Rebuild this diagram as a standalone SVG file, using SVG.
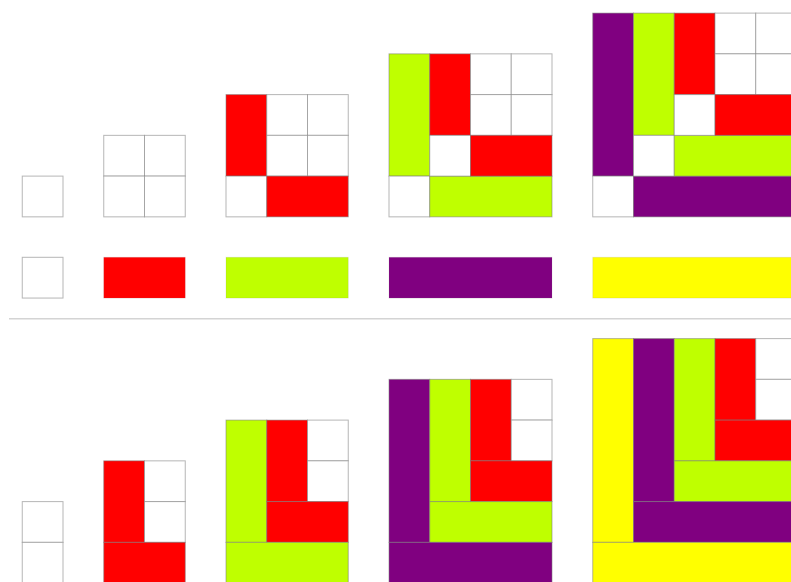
<svg xmlns="http://www.w3.org/2000/svg" width="791" height="582" viewBox="0 0 791 582">
<style>
rect{stroke:#7a7a7a;stroke-width:1;stroke-opacity:0.55}
.w{fill:#ffffff}
.r{fill:#ff0000}
.l{fill:#bfff00}
.p{fill:#800080}
.y{fill:#ffff00}
.bg{fill:#ffffff;stroke:none}
</style>
<defs>
<g id="t2"><rect class="w" x="0" y="0" width="40.75" height="40.75"/><rect class="w" x="40.75" y="0" width="40.75" height="40.75"/><rect class="w" x="0" y="40.75" width="40.75" height="40.75"/><rect class="w" x="40.75" y="40.75" width="40.75" height="40.75"/></g>
<g id="t3"><rect class="r" x="0" y="0" width="40.75" height="81.5"/><use href="#t2" x="40.75" y="0"/><rect class="w" x="0" y="81.5" width="40.75" height="40.75"/><rect class="r" x="40.75" y="81.5" width="81.5" height="40.75"/></g>
<g id="t4"><rect class="l" x="0" y="0" width="40.75" height="122.25"/><rect class="w" x="0" y="122.25" width="40.75" height="40.75"/><rect class="l" x="40.75" y="122.25" width="122.25" height="40.75"/><use href="#t3" x="40.75" y="0"/></g>
<g id="b1"><rect class="w" x="0" y="0" width="40.75" height="40.75"/><rect class="w" x="0" y="40.75" width="40.75" height="40.75"/></g>
<g id="b2"><rect class="r" x="0" y="0" width="40.75" height="81.5"/><use href="#b1" x="40.75" y="0"/><rect class="r" x="0" y="81.5" width="81.5" height="40.75"/></g>
<g id="b3"><rect class="l" x="0" y="0" width="40.75" height="122.25"/><use href="#b2" x="40.75" y="0"/><rect class="l" x="0" y="122.25" width="122.25" height="40.75"/></g>
<g id="b4"><rect class="p" x="0" y="0" width="40.75" height="163"/><use href="#b3" x="40.75" y="0"/><rect class="p" x="0" y="163" width="163" height="40.75"/></g>
</defs>
<rect class="bg" x="0" y="0" width="791" height="582"/>
<g id="top1"><rect class="w" x="22.25" y="176.1" width="40.75" height="40.75"/></g>
<g id="top2"><use href="#t2" x="103.75" y="135.35"/></g>
<g id="top3"><use href="#t3" x="226" y="94.6"/></g>
<g id="top4"><use href="#t4" x="389" y="53.85"/></g>
<g id="top5" transform="translate(592.75,13.1)"><rect class="p" x="0" y="0" width="40.75" height="163"/><rect class="w" x="0" y="163" width="40.75" height="40.75"/><rect class="p" x="40.75" y="163" width="163" height="40.75"/><use href="#t4" x="40.75" y="0"/></g>
<g id="bars">
<rect class="w" x="22.25" y="257.3" width="40.75" height="40.75"/>
<rect class="r" x="103.75" y="257.3" width="81.5" height="40.75" style="stroke-opacity:0.15"/>
<rect class="l" x="226" y="257.3" width="122.25" height="40.75" style="stroke-opacity:0.15"/>
<rect class="p" x="389" y="257.3" width="163" height="40.75" style="stroke-opacity:0.15"/>
<rect class="y" x="592.75" y="257.3" width="203.75" height="40.75" style="stroke-opacity:0.15"/>
</g>
<g id="connectors"><line x1="9" y1="318.7" x2="791" y2="318.7" stroke="#d4d4d4" stroke-width="1.5"/></g>
<g id="bot1"><use href="#b1" x="22.25" y="501.6"/></g>
<g id="bot2"><use href="#b2" x="103.75" y="460.85"/></g>
<g id="bot3"><use href="#b3" x="226" y="420.1"/></g>
<g id="bot4"><use href="#b4" x="389" y="379.35"/></g>
<g id="bot5" transform="translate(592.75,338.6)"><rect class="y" x="0" y="0" width="40.75" height="203.75"/><use href="#b4" x="40.75" y="0"/><rect class="y" x="0" y="203.75" width="203.75" height="40.75"/></g>
</svg>
